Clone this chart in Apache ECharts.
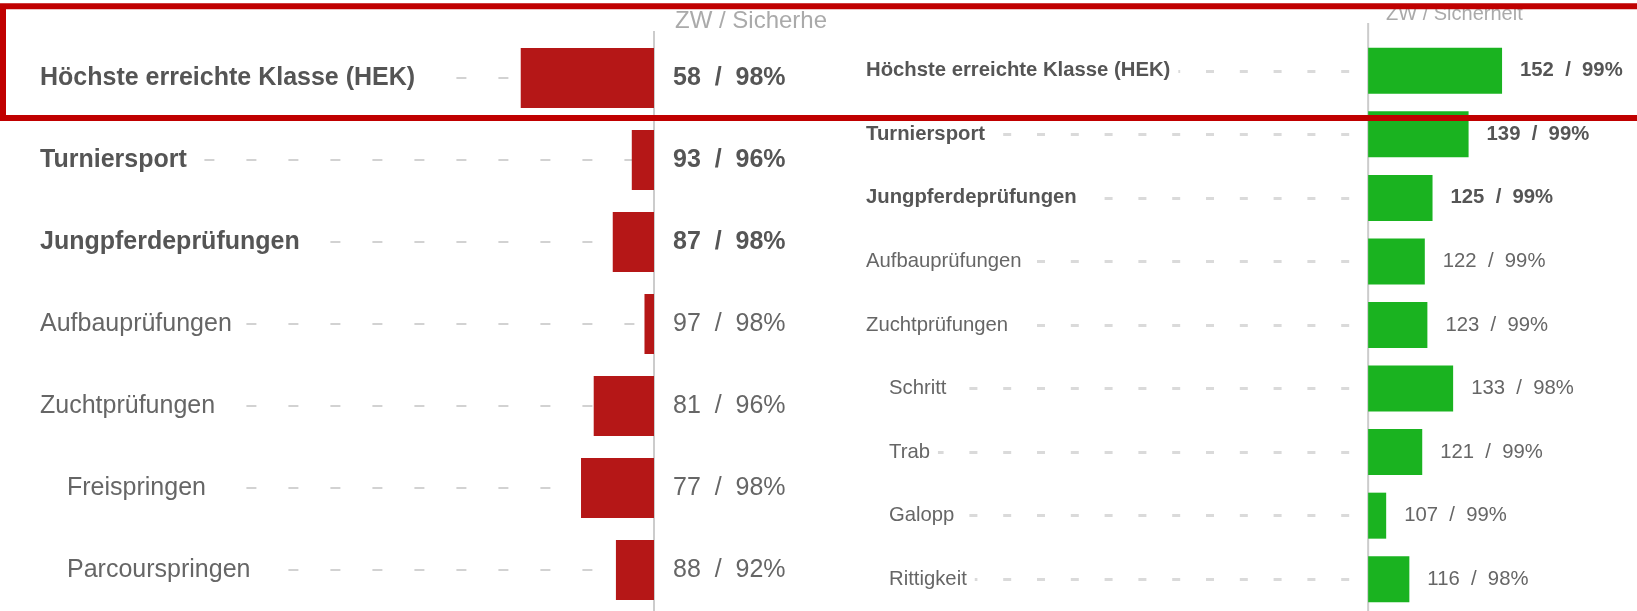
<!DOCTYPE html>
<html>
<head>
<meta charset="utf-8">
<script src="https://cdn.jsdelivr.net/npm/echarts@6/dist/echarts.min.js"></script>
<style>
  html, body { margin: 0; padding: 0; background: #fff; }
  #chart { width: 1637px; height: 611px; }
</style>
</head>
<body>
<div id="chart"></div>
<script>
// left panel (ZW below 100)
const leftCats = ['Höchste erreichte Klasse (HEK)', 'Turniersport', 'Jungpferdeprüfungen', 'Aufbauprüfungen', 'Zuchtprüfungen', 'Freispringen', 'Parcourspringen']
const leftZW = [58, 93, 87, 97, 81, 77, 88]
const leftSicherheit = [98, 96, 98, 98, 96, 98, 92]
const leftLevel = [0, 0, 0, 1, 1, 2, 2]   // 0 = main (bold), 1 = normal, 2 = sub item

// right panel (ZW above 100)
const rightCats = ['Höchste erreichte Klasse (HEK)', 'Turniersport', 'Jungpferdeprüfungen', 'Aufbauprüfungen', 'Zuchtprüfungen', 'Schritt', 'Trab', 'Galopp', 'Rittigkeit']
const rightZW = [152, 139, 125, 122, 123, 133, 121, 107, 116]
const rightSicherheit = [99, 99, 99, 99, 99, 98, 99, 99, 98]
const rightLevel = [0, 0, 0, 1, 1, 2, 2, 2, 2]

const headerText = 'ZW / Sicherheit'
const BASE = 100

// no narrow font installed, so plain Liberation Sans a bit smaller
const font = "'Liberation Sans', Arial, sans-serif"
const levelKey = ['b', 'n', 'i']

function richStyles(size, indent) {
    return {
        b: { fontFamily: font, fontSize: size, fontWeight: 'bold', color: '#555' },
        n: { fontFamily: font, fontSize: size, color: '#666' },
        i: { fontFamily: font, fontSize: size, color: '#666', padding: [0, 0, 0, indent] }
    }
}

function valueStyles(size) {
    return {
        b: { fontFamily: font, fontSize: size, fontWeight: 'bold', color: '#555' },
        n: { fontFamily: font, fontSize: size, color: '#666' },
        i: { fontFamily: font, fontSize: size, color: '#666' }
    }
}

function panel(idx, cats, zw, sich, level, cfg) {
    const data = zw.map(v => v - BASE)
    const dashes = cats.map(c => [
        { coord: [cfg.min, c], lineStyle: cfg.dash },
        { coord: [0, c] }
    ])
    return {
        grid: { left: cfg.left, top: cfg.top, width: cfg.width, height: cfg.height, containLabel: false },
        xAxis: { gridIndex: idx, type: 'value', min: cfg.min, max: cfg.max, show: false },
        yAxis: {
            gridIndex: idx,
            type: 'category',
            inverse: true,
            data: cats,
            z: 10,
            axisLine: { show: false },
            axisTick: { show: false },
            splitLine: { show: false },
            axisLabel: {
                inside: true,
                margin: 0,
                backgroundColor: '#fff',
                padding: [0, cfg.labelGap, 0, 0],
                formatter: (v, i) => '{' + levelKey[level[i]] + '|' + v + '}',
                rich: richStyles(cfg.fontSize, cfg.indent)
            }
        },
        series: {
            type: 'bar',
            xAxisIndex: idx,
            yAxisIndex: idx,
            data,
            barWidth: cfg.barWidth,
            itemStyle: { color: cfg.color },
            label: {
                show: true,
                position: 'right',
                distance: cfg.labelDist,
                formatter: p => '{' + levelKey[level[p.dataIndex]] + '|' + zw[p.dataIndex] + '  /  ' + sich[p.dataIndex] + '%}',
                rich: valueStyles(cfg.fontSize)
            },
            markLine: {
                silent: true,
                z: 1,
                symbol: 'none',
                label: { show: false },
                data: dashes
            }
        }
    }
}

const left = panel(0, leftCats, leftZW, leftSicherheit, leftLevel, {
    left: 40, top: 37, width: 614, height: 586,
    min: -193.5, max: 0,
    barWidth: 60, color: '#b51717',
    fontSize: 25, indent: 27, labelGap: 10, labelDist: 19,
    dash: { type: [10, 32], dashOffset: 3.6, color: '#d2d2d2', width: 2 }
})

const right = panel(1, rightCats, rightZW, rightSicherheit, rightLevel, {
    left: 866, top: 39, width: 771, height: 575.5,
    min: -195, max: 104.4,
    barWidth: 46, color: '#1ab320',
    fontSize: 20.3, indent: 23, labelGap: 8, labelDist: 18,
    dash: { type: [8, 25.8], dashOffset: 31.8, color: '#dadada', width: 3 }
})

const chart = echarts.init(document.getElementById('chart'))

chart.setOption({
    animation: false,
    grid: [left.grid, right.grid],
    xAxis: [left.xAxis, right.xAxis],
    yAxis: [left.yAxis, right.yAxis],
    series: [left.series, right.series]
})

// baseline (ZW 100) lines reach up under the header, above the grid top
const x0Left = chart.convertToPixel({ gridIndex: 0 }, [0, 0])[0]
const x0Right = chart.convertToPixel({ gridIndex: 1 }, [0, 0])[0]

chart.setOption({
    graphic: [
        {
            type: 'line', z: 1, silent: true,
            shape: { x1: x0Left, y1: 31, x2: x0Left, y2: 611 },
            style: { stroke: '#cccccc', lineWidth: 2 }
        },
        {
            type: 'line', z: 1, silent: true,
            shape: { x1: x0Right, y1: 23, x2: x0Right, y2: 611 },
            style: { stroke: '#cccccc', lineWidth: 2 }
        },
        {
            type: 'text', left: 675, top: 9, z: 50,
            style: { text: headerText, fontFamily: font, fontSize: 24, fill: '#aaaaaa' }
        },
        {
            // left screenshot ends here, header gets cut
            type: 'rect', shape: { x: 828, y: 10, width: 40, height: 26 }, z: 51,
            style: { fill: '#fff' }
        },
        {
            type: 'text', left: 1386, top: 4, z: 50,
            style: { text: headerText, fontFamily: font, fontSize: 20, fill: '#aaaaaa' }
        },
        {
            type: 'rect', shape: { x: 3, y: 6.3, width: 1700, height: 111.7 }, z: 100,
            style: { fill: 'none', stroke: '#c00000', lineWidth: 6 }
        }
    ]
})
</script>
</body>
</html>
